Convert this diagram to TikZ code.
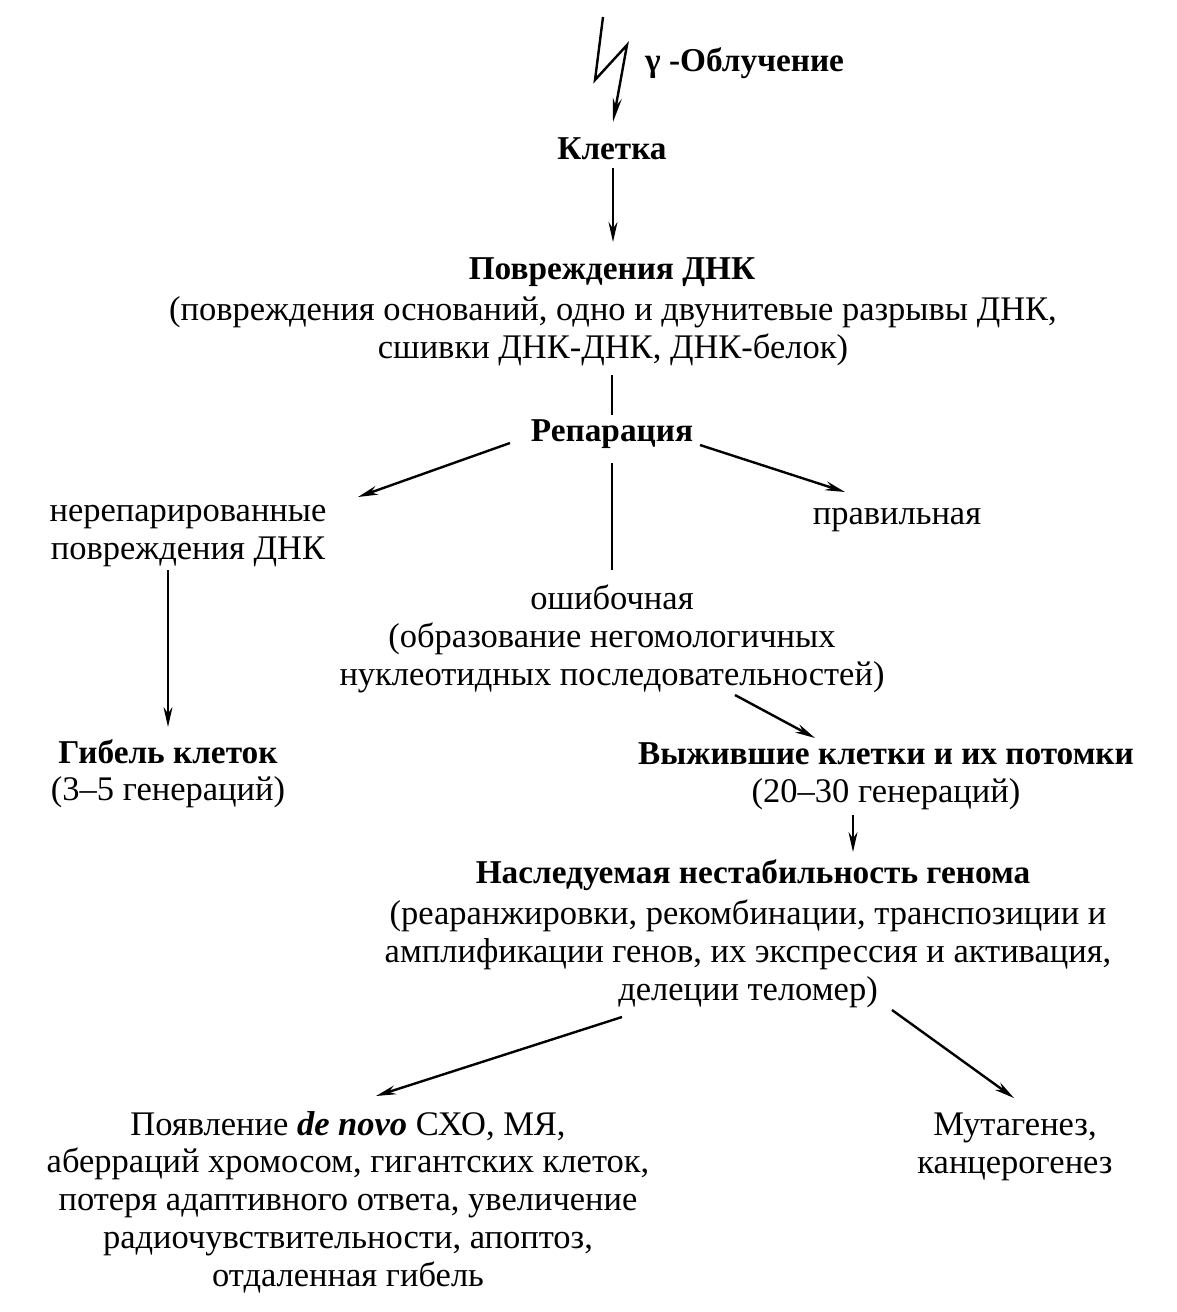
\documentclass[tikz,border=0pt]{standalone}
\usepackage{fontspec}
\setmainfont{Liberation Serif}
\usetikzlibrary{arrows.meta,calc}
\begin{document}
\begin{tikzpicture}[x=1pt,y=-1pt,
  txt/.style={font=\fontsize{34.5}{37.8}\selectfont, align=center, inner sep=0pt},
  bld/.style={font=\fontsize{33.3}{37.8}\selectfont\bfseries, align=center, inner sep=0pt},
  arr/.style={line width=2.4pt, -{Stealth[length=20pt,width=9pt]}},
  ln/.style={line width=2.4pt}]
\useasboundingbox (0,0) rectangle (1176,1312);
\fill[white] (0,0) rectangle (1176,1312);

\node[bld, anchor=west] (gam) at (645,63) {γ -Облучение};
\node[bld] (klet) at (612,149) {Клетка};
\node[bld] (povr) at (612,272) {Повреждения ДНК};
\node[txt] (povrd) at (613,331) {(повреждения оснований, одно и двунитевые разрывы ДНК,\\сшивки ДНК-ДНК, ДНК-белок)};
\node[bld] (rep) at (612,434) {Репарация};
\node[txt] (nerep) at (188,536) {нерепарированные\\повреждения ДНК};
\node[txt] (prav) at (897,520) {правильная};
\node[txt] (osh) at (612,639) {ошибочная\\(образование негомологичных\\нуклеотидных последовательностей)};
\node[bld] (gib) at (168,752) {Гибель клеток};
\node[txt] (gibd) at (168,792) {(3–5 генераций)};
\node[bld] (vyzh) at (886,754) {Выжившие клетки и их потомки};
\node[txt] (vyzhd) at (886,794) {(20–30 генераций)};
\node[bld] (nasl) at (753,875) {Наследуемая нестабильность генома};
\node[txt] (nasld) at (748,954) {(реаранжировки, рекомбинации, транспозиции и\\амплификации генов, их экспрессия и активация,\\делеции теломер)};
\node[txt] (poyav) at (348,1202) {Появление \textbf{\textit{de novo}} СХО, МЯ,\\аберраций хромосом, гигантских клеток,\\потеря адаптивного ответа, увеличение\\радиочувствительности, апоптоз,\\отдаленная гибель};
\node[txt] (mut) at (1015,1147) {Мутагенез,\\канцерогенез};

% lightning
\coordinate (l1) at (603,17);
\coordinate (l2) at (595,80);
\coordinate (l3) at (627,45);
\coordinate (l4) at (613,122);
\draw[line width=2.4pt, -{Stealth[length=24pt,width=9pt]}] (l1) -- (l2) -- (l3) -- (l4);

\draw[arr] (klet.south) ++(1,8) -- (613,242);
\draw[ln] (612,375) -- (612,415);
\draw[arr] (510,443) -- (358,497);
\draw[arr] (700,445) -- (845,492);
\draw[ln] (612,463) -- (612,570);
\draw[arr] (168,570) -- (168,727);
\draw[arr] (735,695) -- (815,738);
\draw[arr] (853,815) -- (853,852);
\draw[arr] (622,1017) -- (376,1096);
\draw[arr] (892,1010) -- (1014,1098);
\end{tikzpicture}
\end{document}
